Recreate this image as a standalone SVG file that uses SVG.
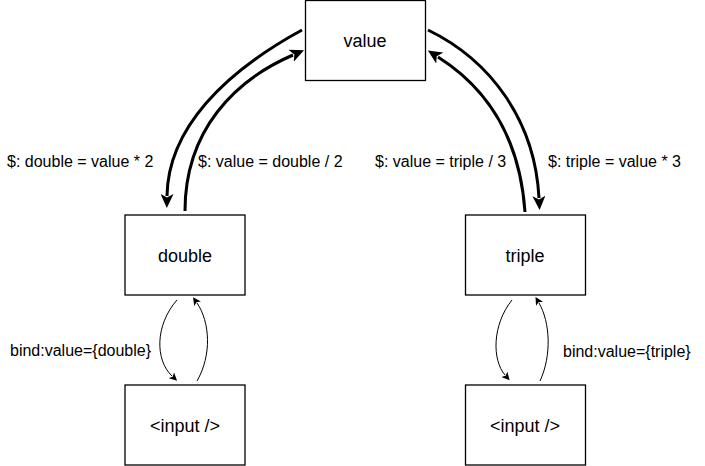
<svg xmlns="http://www.w3.org/2000/svg" width="705" height="466" viewBox="0 0 705 466">
  <style>
    .box { fill: #ffffff; stroke: #000000; stroke-width: 1.3; }
    .label { font-family: "Liberation Sans", Arial, Helvetica, sans-serif; font-size: 18px; fill: #000000; text-anchor: middle; }
    .edge-label { font-family: "Liberation Sans", Arial, Helvetica, sans-serif; font-size: 16px; fill: #000000; }
    .thick { fill: none; stroke: #000000; stroke-width: 3; marker-end: url(#head-thick); }
    .thin { fill: none; stroke: #000000; stroke-width: 1; marker-end: url(#head-thin); }
  </style>
  <defs>
    <marker id="head-thick" markerUnits="userSpaceOnUse" markerWidth="15" markerHeight="13" refX="2" refY="6.5" orient="auto" viewBox="0 0 15 13">
      <path d="M0,0 L14,6.5 L0,13 L3.5,6.5 z" fill="#000000"/>
    </marker>
    <marker id="head-thin" markerUnits="userSpaceOnUse" markerWidth="9" markerHeight="8" refX="1" refY="4" orient="auto" viewBox="0 0 9 8">
      <path d="M0,0 L8,4 L0,8 L2,4 z" fill="#000000"/>
    </marker>
  </defs>
  <rect width="705" height="466" fill="#ffffff"/>

  <!-- connectors -->
  <g id="connectors">
    <path class="thick" d="M302,30 C225,72 168,128 167,196"/>
    <path class="thick" d="M185,211 C185,130 235,80 293,55"/>
    <path class="thick" d="M428,30 C490,60 535,120 539,198"/>
    <path class="thick" d="M525,212 C520,140 490,90 438,57"/>
    <path class="thin" d="M177,300 C155,325 155,360 172,376"/>
    <path class="thin" d="M197,381 C212,355 210,322 197,303"/>
    <path class="thin" d="M512,300 C492,325 492,360 505,375"/>
    <path class="thin" d="M540,381 C552,355 550,322 539,303"/>
  </g>

  <!-- connector labels -->
  <g id="edge-labels">
    <text class="edge-label" x="7" y="167">$: double = value * 2</text>
    <text class="edge-label" x="198" y="167">$: value = double / 2</text>
    <text class="edge-label" x="375" y="167">$: value = triple / 3</text>
    <text class="edge-label" x="548" y="167">$: triple = value * 3</text>
    <text class="edge-label" x="10" y="356">bind:value={double}</text>
    <text class="edge-label" x="563" y="357">bind:value={triple}</text>
  </g>

  <!-- nodes -->
  <g id="node-value">
    <rect class="box" x="305.5" y="0.5" width="120" height="80"/>
    <text class="label" x="365" y="46.5">value</text>
  </g>
  <g id="node-double">
    <rect class="box" x="125" y="215" width="120" height="80"/>
    <text class="label" x="185" y="261.5">double</text>
  </g>
  <g id="node-triple">
    <rect class="box" x="465.5" y="215" width="120" height="80"/>
    <text class="label" x="525" y="261.5">triple</text>
  </g>
  <g id="node-input-double">
    <rect class="box" x="125" y="385" width="120" height="80"/>
    <text class="label" x="185" y="431.5">&lt;input /&gt;</text>
  </g>
  <g id="node-input-triple">
    <rect class="box" x="465.5" y="385" width="120" height="80"/>
    <text class="label" x="525" y="431.5">&lt;input /&gt;</text>
  </g>
</svg>
